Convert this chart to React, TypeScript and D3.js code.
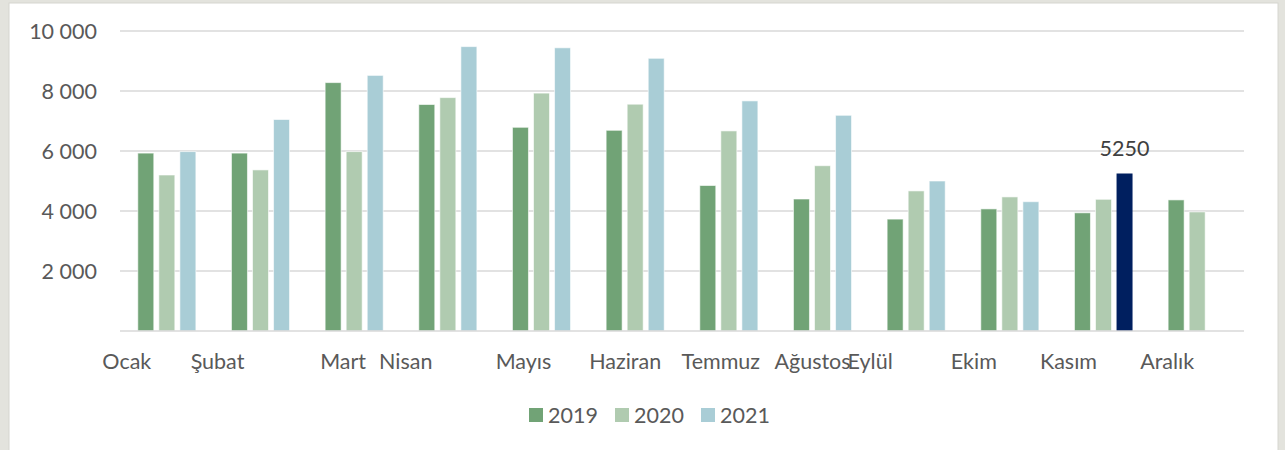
import * as d3 from "d3";

const months = [
  "Ocak",
  "Şubat",
  "Mart",
  "Nisan",
  "Mayıs",
  "Haziran",
  "Temmuz",
  "Ağustos",
  "Eylül",
  "Ekim",
  "Kasım",
  "Aralık",
];

const series = ["2019", "2020", "2021"];

const values2019 = [5930, 5930, 8280, 7550, 6790, 6690, 4850, 4400, 3730, 4070, 3940, 4370];
const values2020 = [5200, 5370, 5980, 7780, 7930, 7560, 6670, 5510, 4670, 4470, 4390, 3970];
const values2021 = [5980, 7050, 8520, 9480, 9440, 9090, 7670, 7190, 5000, 4310, 5250, null];

const yTicks = [2000, 4000, 6000, 8000, 10000];

// the one highlighted bar with its value shown
const highlightMonth = "Kasım";
const highlightSeries = "2021";

// Excel placed the month labels off-centre; shift from band centre in px
const labelShift = [-40, -43, -11, -42, -18, -10, -8, -10, -46, -36, -35, -30];

const colors: Record<string, string> = {
  "2019": "#71a376",
  "2020": "#b0cbb0",
  "2021": "#a9cdd6",
};
const highlightColor = "#001f5f";

const W = 1285;
const H = 450;
const margin = { top: 31, right: 41, bottom: 119, left: 120 };
const font = "Lato, 'Open Sans', sans-serif";
const fs = 21.5;

const App = () => {
  const x = d3
    .scaleBand<string>()
    .domain(months)
    .range([margin.left, W - margin.right])
    .paddingInner(0.38)
    .paddingOuter(0.19);

  const xInner = d3
    .scaleBand<string>()
    .domain(series)
    .range([0, x.bandwidth()])
    .paddingInner(0.24);

  const y = d3
    .scaleLinear()
    .domain([0, 10000])
    .range([H - margin.bottom, margin.top]);

  const rows = months.map((m, i) => ({
    month: m,
    vals: [values2019[i], values2020[i], values2021[i]],
  }));

  const fmt = (v: number) => d3.format(",")(v).replace(",", " ");

  return (
    <svg
      width={W}
      height={H}
      style={{ position: "absolute", left: 0, top: 0, display: "block" }}
    >
      <rect x={0} y={0} width={W} height={H} fill="#e3e3dd" />
      <rect x={9} y={3} width={1269} height={H} fill="#ffffff" stroke="#d6d6d0" strokeWidth={1} />

      {/* grid */}
      {yTicks.map((t) => (
        <line
          key={t}
          x1={margin.left}
          x2={W - margin.right}
          y1={y(t)}
          y2={y(t)}
          stroke="#d9d9d9"
          strokeWidth={1.5}
        />
      ))}
      {yTicks.map((t) => (
        <text
          key={"l" + t}
          x={97}
          y={y(t)}
          dy="0.36em"
          textAnchor="end"
          fontFamily={font}
          fontSize={fs}
          fill="#595959"
        >
          {fmt(t)}
        </text>
      ))}

      {/* bars */}
      {rows.map((r) => (
        <g key={r.month} transform={`translate(${x(r.month)},0)`}>
          {series.map((s, j) => {
            const v = r.vals[j];
            if (v == null) return null;
            const hl = r.month === highlightMonth && s === highlightSeries;
            return (
              <rect
                key={s}
                x={xInner(s)}
                y={y(v)}
                width={xInner.bandwidth()}
                height={y(0) - y(v)}
                fill={hl ? highlightColor : colors[s]}
                stroke={hl ? "none" : "#ffffff"}
                strokeOpacity={0.6}
                strokeWidth={1}
              />
            );
          })}
          {r.month === highlightMonth && (
            <text
              x={(xInner(highlightSeries) ?? 0) + xInner.bandwidth() / 2}
              y={y(r.vals[series.indexOf(highlightSeries)] as number) - 18}
              textAnchor="middle"
              fontFamily={font}
              fontSize={fs}
              fill="#404040"
            >
              {r.vals[series.indexOf(highlightSeries)]}
            </text>
          )}
        </g>
      ))}

      {/* baseline */}
      <line
        x1={margin.left}
        x2={W - margin.right}
        y1={y(0)}
        y2={y(0)}
        stroke="#d9d9d9"
        strokeWidth={1.5}
      />

      {/* month labels */}
      {months.map((m, i) => (
        <text
          key={"m" + m}
          x={(x(m) ?? 0) + x.bandwidth() / 2 + labelShift[i]}
          y={369}
          textAnchor="middle"
          fontFamily={font}
          fontSize={fs}
          fill="#595959"
        >
          {m}
        </text>
      ))}

      {/* legend */}
      {series.map((s, i) => (
        <g key={"lg" + s} transform={`translate(${529 + i * 86},408)`}>
          <rect x={0} y={0} width={14} height={14} fill={colors[s]} />
          <text x={19} y={7} dy="0.36em" fontFamily={font} fontSize={fs} fill="#595959">
            {s}
          </text>
        </g>
      ))}
    </svg>
  );
};

export default App;
